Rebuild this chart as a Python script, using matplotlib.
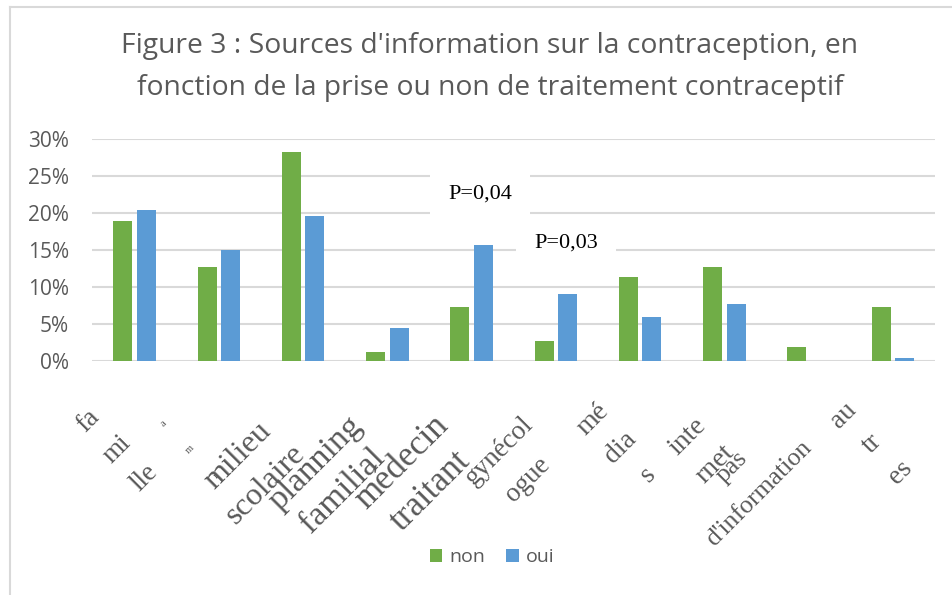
import matplotlib
matplotlib.use("Agg")
import matplotlib.pyplot as plt
from matplotlib.lines import Line2D
from matplotlib.transforms import offset_copy
import numpy as np

# ---- data ----
categories = ["fa\nmi\nlle", "a\nm\ni", "milieu\nscolaire", "planning\nfamilial",
              "médecin\ntraitant", "gynécol\nogue", "mé\ndia\ns", "inte\nrnet",
              "pas\nd'information", "au\ntr\nes"]
non_vals = [19.0, 12.7, 28.3, 1.2, 7.3, 2.7, 11.4, 12.8, 2.0, 7.4]
oui_vals = [20.4, 15.0, 19.6, 4.5, 15.7, 9.1, 6.0, 7.8, 0.0, 0.5]
series_names = ["non", "oui"]
yticks = [0, 5, 10, 15, 20, 25, 30]
ytick_labels = ["0%", "5%", "10%", "15%", "20%", "25%", "30%"]
title = ("Figure 3 : Sources d'information sur la contraception, en\n"
         "fonction de la prise ou non de traitement contraceptif")
pvalue_texts = ["P=0,04", "P=0,03"]
pvalue_pos = [(4.1, 22.6), (5.12, 16.0)]

# ---- style ----
GREEN = "#70AD47"
BLUE = "#5B9BD5"
GRID = "#D9D9D9"
TXT = "#595959"
SANS = "Open Sans"
label_sizes = [19.5, 7.5, 23, 24.5, 25, 19.5, 20, 20, 18.5, 19.5]
label_spacing = [1.79, 5.0, 1.47, 1.35, 1.32, 1.79, 1.74, 1.74, 1.91, 1.79]
label_dx = [8, -10, 0, 0, 2, 4, 8, 8, 2, 4]      # pixel nudges
label_dy = [-4, -12, 0, 0, 0, 0, 0, 0, 4, 0]

W, H = 953, 595
fig = plt.figure(figsize=(W / 100, H / 100), dpi=100)
ax = fig.add_axes([92.5 / W, 1 - 361.3 / H, (935 - 92.5) / W, (361.3 - 139.3) / H])

x = np.arange(len(categories))
bw = 0.226
off = 0.14
ax.bar(x - off, non_vals, bw, color=GREEN, zorder=3, label=series_names[0])
ax.bar(x + off, oui_vals, bw, color=BLUE, zorder=3, label=series_names[1])

ax.set_xlim(-0.5, len(categories) - 0.5)
ax.set_ylim(0, 30)
ax.set_yticks(yticks)
ax.set_yticklabels(ytick_labels, fontfamily=SANS, fontsize=15, color=TXT)
ax.tick_params(axis="y", length=0, pad=17)
ax.set_xticks([])
for s in ax.spines.values():
    s.set_visible(False)
ax.grid(axis="y", color=GRID, linewidth=1.5, zorder=0)
ax.set_axisbelow(True)

# x category labels (rotated, broken lines, serif)
base = ax.get_xaxis_transform()
for i, lab in enumerate(categories):
    tr = offset_copy(base, fig=fig, x=label_dx[i], y=label_dy[i], units="dots")
    ax.text(i - 0.19, -0.332, lab, transform=tr, rotation=45,
            rotation_mode="anchor", ha="right", va="center",
            multialignment="center", fontfamily="Liberation Serif",
            fontsize=label_sizes[i], linespacing=label_spacing[i],
            color=TXT, clip_on=False)

# p-value annotations with white boxes
for (px, py), t in zip(pvalue_pos, pvalue_texts):
    ax.text(px, py, t, ha="center", va="center", fontfamily="Liberation Serif",
            fontsize=16, color="black", zorder=5,
            bbox=dict(boxstyle="square,pad=0.8", facecolor="white",
                      edgecolor="none"))

# title
fig.text(490 / W, 1 - 67 / H, title, ha="center", va="center",
         fontfamily=SANS, fontsize=20.3, color=TXT, linespacing=1.7)

# legend
fig.legend(loc="center", bbox_to_anchor=(492 / W, 1 - 557 / H), ncol=2,
           frameon=False, prop={"family": SANS, "size": 14},
           labelcolor=TXT, handlelength=0.65, handleheight=0.65,
           handletextpad=0.35, columnspacing=1.1)

# outer frame (left + top)
fig.add_artist(Line2D([10 / W, 10 / W], [0, 1 - 7 / H], transform=fig.transFigure,
                      color=GRID, linewidth=1.5))
fig.add_artist(Line2D([10 / W, 1], [1 - 7 / H, 1 - 7 / H], transform=fig.transFigure,
                      color=GRID, linewidth=1.5))

fig.savefig("out.png", dpi=100)
